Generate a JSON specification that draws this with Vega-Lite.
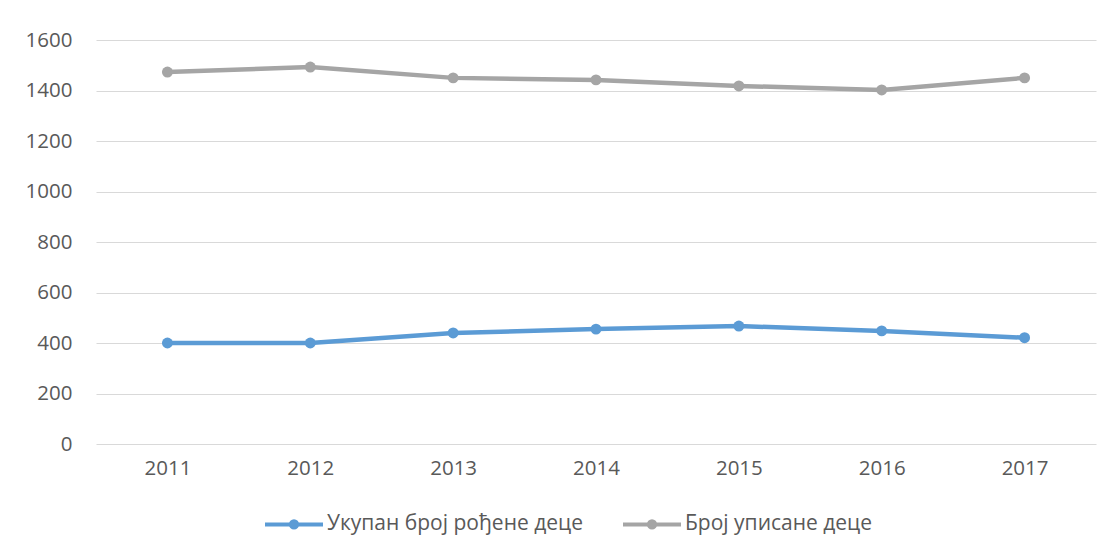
{
  "$schema": "https://vega.github.io/schema/vega-lite/v6.json",
  "width": 1000,
  "height": 404,
  "autosize": "none",
  "padding": {"left": 96, "top": 40, "right": 16, "bottom": 109},
  "background": "white",
  "config": {
    "font": "Open Sans",
    "view": {"stroke": null}
  },
  "data": {
    "values": [
      {"year": "2011", "s": "Укупан број рођене деце", "v": 400},
      {"year": "2012", "s": "Укупан број рођене деце", "v": 400},
      {"year": "2013", "s": "Укупан број рођене деце", "v": 440},
      {"year": "2014", "s": "Укупан број рођене деце", "v": 455},
      {"year": "2015", "s": "Укупан број рођене деце", "v": 467},
      {"year": "2016", "s": "Укупан број рођене деце", "v": 448},
      {"year": "2017", "s": "Укупан број рођене деце", "v": 421},
      {"year": "2011", "s": "Број уписане деце", "v": 1473},
      {"year": "2012", "s": "Број уписане деце", "v": 1493},
      {"year": "2013", "s": "Број уписане деце", "v": 1450},
      {"year": "2014", "s": "Број уписане деце", "v": 1442},
      {"year": "2015", "s": "Број уписане деце", "v": 1418},
      {"year": "2016", "s": "Број уписане деце", "v": 1402},
      {"year": "2017", "s": "Број уписане деце", "v": 1450}
    ]
  },
  "mark": {"type": "line", "strokeWidth": 4.5, "point": {"filled": true, "size": 120}},
  "encoding": {
    "x": {
      "field": "year",
      "type": "ordinal",
      "axis": {
        "title": null,
        "labelAngle": 0,
        "domain": false,
        "ticks": false,
        "grid": false,
        "labelPadding": 14,
        "labelFontSize": 20.5,
        "labelColor": "#595959",
        "labelFont": "Open Sans"
      }
    },
    "y": {
      "field": "v",
      "type": "quantitative",
      "scale": {"domain": [0, 1600], "nice": false},
      "axis": {
        "title": null,
        "format": "d",
        "values": [0, 200, 400, 600, 800, 1000, 1200, 1400, 1600],
        "domain": false,
        "ticks": false,
        "gridColor": "#d9d9d9",
        "gridWidth": 1.2,
        "labelPadding": 24,
        "labelFontSize": 20.5,
        "labelColor": "#595959",
        "labelFont": "Open Sans"
      }
    },
    "color": {
      "field": "s",
      "type": "nominal",
      "scale": {
        "domain": ["Укупан број рођене деце", "Број уписане деце"],
        "range": ["#5B9BD5", "#A5A5A5"]
      },
      "legend": {
        "title": null,
        "orient": "none",
        "direction": "horizontal",
        "legendX": 167,
        "legendY": 453,
        "symbolType": "M-1,0H1M0.11,0A0.11,0.11 0 1 1 -0.11,0A0.11,0.11 0 1 1 0.11,0Z",
        "symbolSize": 3364,
        "symbolStrokeWidth": 4,
        "labelFontSize": 21,
        "labelLimit": 500,
        "labelColor": "#595959",
        "labelFont": "Open Sans",
        "labelOffset": 2,
        "columnPadding": 32
      }
    }
  }
}
